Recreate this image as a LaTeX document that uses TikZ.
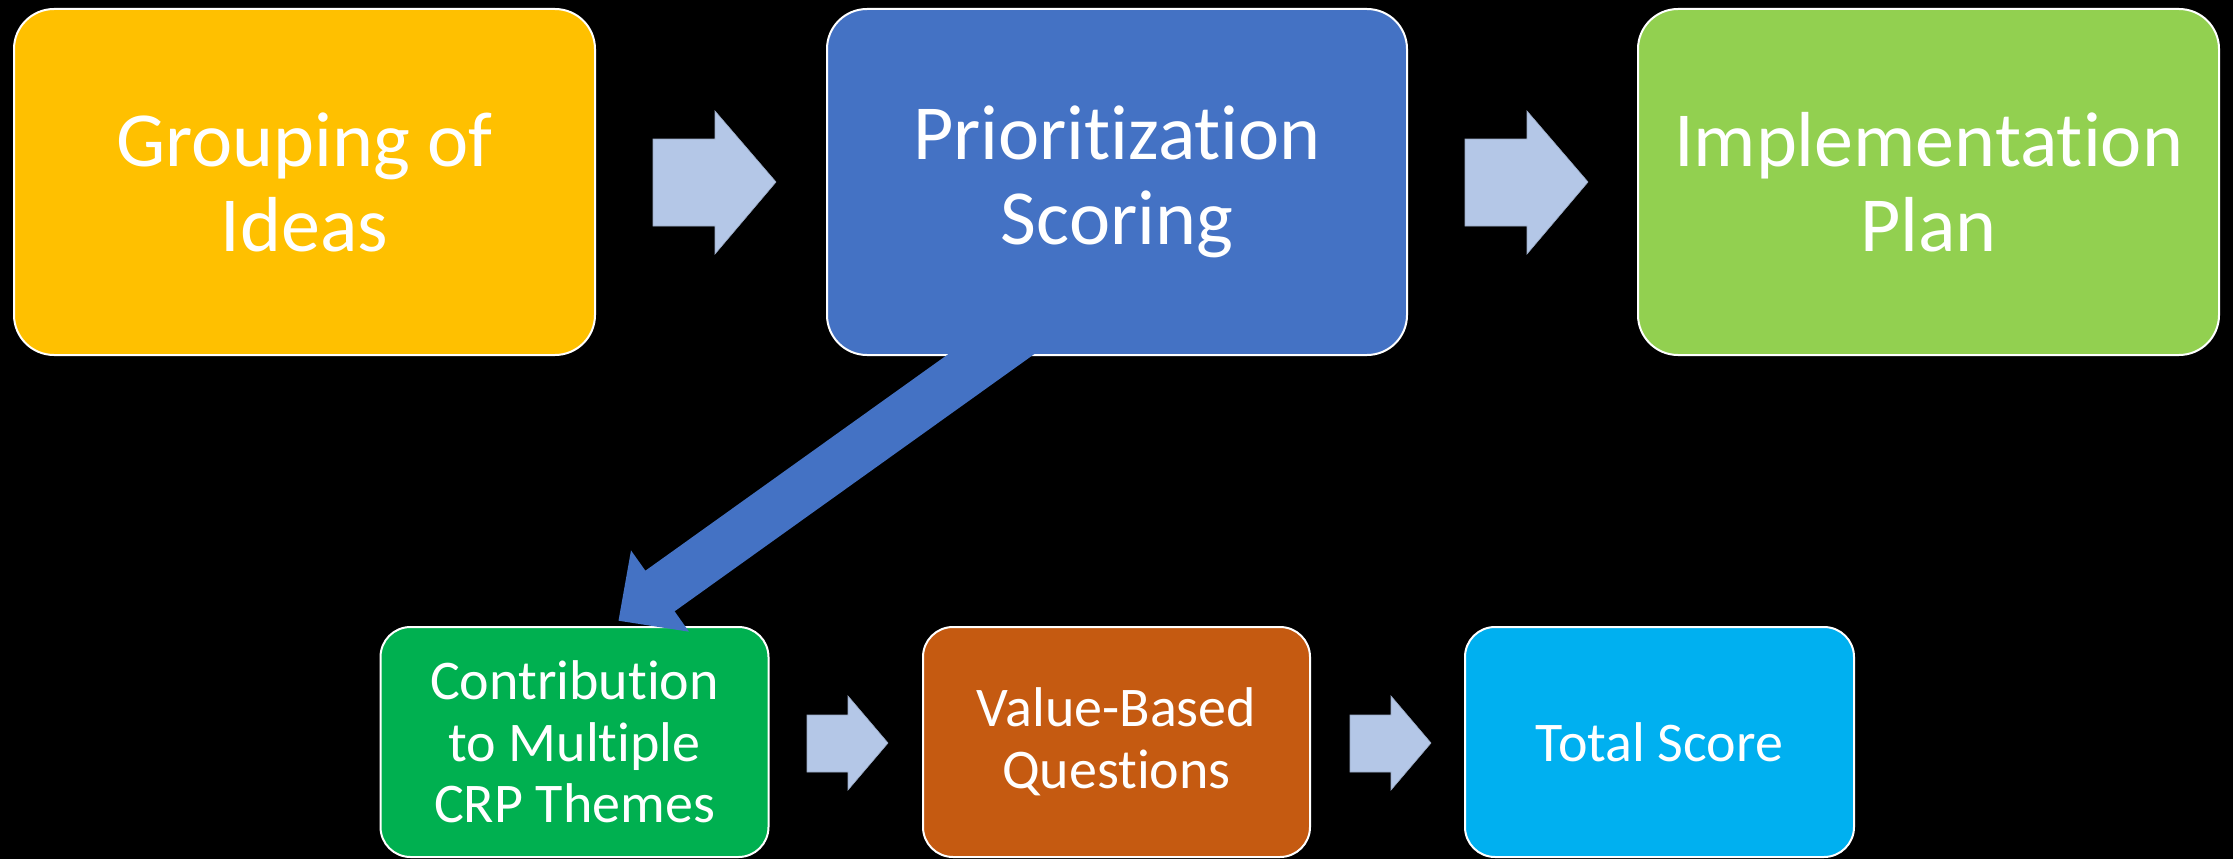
\documentclass[tikz,border=0pt]{standalone}
\usepackage{fontspec}
\setmainfont{Carlito}[Ligatures={NoCommon,NoRequired,NoContextual}]
\definecolor{cyellow}{HTML}{FFC000}
\definecolor{cblue}{HTML}{4472C4}
\definecolor{clime}{HTML}{92D050}
\definecolor{cgreen}{HTML}{00B050}
\definecolor{corange}{HTML}{C55A11}
\definecolor{csky}{HTML}{00B0F0}
\definecolor{carrow}{HTML}{B4C7E7}
\tikzset{
  bigbox/.style={draw=white, line width=2pt, rounded corners=40pt, inner sep=0pt,
    align=center, text=white, minimum width=581pt, minimum height=346pt,
    font=\fontsize{78}{85}\selectfont},
  smallbox/.style={draw=white, line width=2pt, rounded corners=30pt, inner sep=0pt,
    align=center, text=white, minimum width=388pt, minimum height=230pt,
    font=\fontsize{56}{61.5}\selectfont},
  blockarrow/.style={fill=carrow, draw=carrow!85!black, line width=0.6pt},
}
\begin{document}
\begin{tikzpicture}[x=1pt,y=-1pt]
\fill[black] (0,0) rectangle (2233,859);
\useasboundingbox (0,0) rectangle (2233,859);

% top row
\node[bigbox, fill=cyellow] (g1) at (304.5,182) {Grouping of\\Ideas};
\node[bigbox, fill=cblue, minimum width=580pt] (g2) at (1117,182) {Prioritization\\Scoring};
\node[bigbox, fill=clime] (g3) at (1928.5,182) {Implementation\\Plan};

% bottom row
\node[smallbox, fill=cgreen] (b1) at (574.5,742) {Contribution\\to Multiple\\CRP Themes};
\node[smallbox, fill=corange, minimum width=387pt] (b2) at (1116.5,742) {Value-Based\\Questions};
\node[smallbox, fill=csky, minimum width=389pt] (b3) at (1659.5,742) {Total Score};

% block arrows top
\draw[blockarrow] (653,139) -- (715,139) -- (715,111) -- (776,182) -- (715,254) -- (715,226) -- (653,226) -- cycle;
\draw[blockarrow] (1465,139) -- (1527,139) -- (1527,111) -- (1588,182) -- (1527,254) -- (1527,226) -- (1465,226) -- cycle;

% block arrows bottom
\draw[blockarrow] (807,715) -- (848,715) -- (848,696) -- (888,743) -- (848,790) -- (848,772) -- (807,772) -- cycle;
\draw[blockarrow] (1350,715) -- (1391,715) -- (1391,696) -- (1431,743) -- (1391,790) -- (1391,772) -- (1350,772) -- cycle;

% diagonal arrow from Prioritization Scoring to Contribution
\fill[cblue] (1039.6,350.3) -- (674.6,611.3) -- (689,631.7) -- (618.5,620.7) -- (631,550.4) -- (645.4,570.7) -- (1010.4,309.7) -- cycle;
\end{tikzpicture}
\end{document}
